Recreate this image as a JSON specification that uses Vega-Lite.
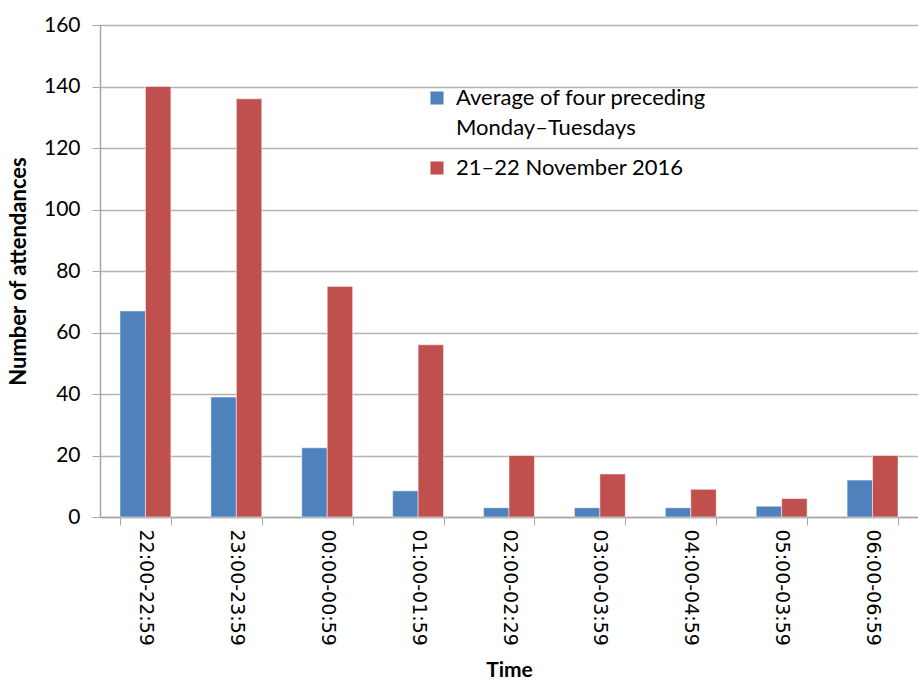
{
  "$schema": "https://vega.github.io/schema/vega-lite/v6.json",
  "width": 818,
  "height": 492,
  "autosize": {"type": "none"},
  "padding": {"left": 100, "top": 25, "right": 0, "bottom": 167},
  "background": "white",
  "config": {"view": {"stroke": null}, "font": "Lato", "style": {"guide-label": {"lineHeight": 30}}},
  "data": {
    "values": [
      {"time": "22:00-22:59", "series": "Average of four preceding Monday–Tuesdays", "value": 67},
      {"time": "22:00-22:59", "series": "21–22 November 2016", "value": 140},
      {"time": "23:00-23:59", "series": "Average of four preceding Monday–Tuesdays", "value": 39},
      {"time": "23:00-23:59", "series": "21–22 November 2016", "value": 136},
      {"time": "00:00-00:59", "series": "Average of four preceding Monday–Tuesdays", "value": 22.5},
      {"time": "00:00-00:59", "series": "21–22 November 2016", "value": 75},
      {"time": "01:00-01:59", "series": "Average of four preceding Monday–Tuesdays", "value": 8.5},
      {"time": "01:00-01:59", "series": "21–22 November 2016", "value": 56},
      {"time": "02:00-02:29", "series": "Average of four preceding Monday–Tuesdays", "value": 3},
      {"time": "02:00-02:29", "series": "21–22 November 2016", "value": 20},
      {"time": "03:00-03:59", "series": "Average of four preceding Monday–Tuesdays", "value": 3},
      {"time": "03:00-03:59", "series": "21–22 November 2016", "value": 14},
      {"time": "04:00-04:59", "series": "Average of four preceding Monday–Tuesdays", "value": 3},
      {"time": "04:00-04:59", "series": "21–22 November 2016", "value": 9},
      {"time": "05:00-03:59", "series": "Average of four preceding Monday–Tuesdays", "value": 3.5},
      {"time": "05:00-03:59", "series": "21–22 November 2016", "value": 6},
      {"time": "06:00-06:59", "series": "Average of four preceding Monday–Tuesdays", "value": 12},
      {"time": "06:00-06:59", "series": "21–22 November 2016", "value": 20}
    ]
  },
  "mark": {"type": "bar", "stroke": "white", "strokeWidth": 0.5},
  "encoding": {
    "x": {
      "field": "time",
      "type": "nominal",
      "sort": null,
      "scale": {"paddingInner": 0.44, "paddingOuter": 0.22},
      "axis": {
        "title": "Time",
        "titleFont": "Lato",
        "titleFontSize": 21,
        "titleFontWeight": "bold",
        "titleColor": "black",
        "titleBaseline": "middle",
        "titleY": 153,
        "labelAngle": 90,
        "labelAlign": "left",
        "labelBaseline": "middle",
        "labelFont": "DejaVu Sans",
        "labelFontSize": 19,
        "labelColor": "black",
        "labelPadding": 4,
        "tickBand": "extent",
        "tickSize": 8,
        "tickColor": "#a6a6a6",
        "domainColor": "#a6a6a6",
        "domainWidth": 1.5,
        "grid": false
      }
    },
    "xOffset": {
      "field": "series",
      "type": "nominal",
      "sort": ["Average of four preceding Monday–Tuesdays", "21–22 November 2016"],
      "scale": {"paddingInner": 0, "paddingOuter": 0}
    },
    "y": {
      "field": "value",
      "type": "quantitative",
      "scale": {"domain": [0, 160], "nice": false},
      "axis": {
        "title": "Number of attendances",
        "titleFont": "Lato",
        "titleFontSize": 22,
        "titleFontWeight": "bold",
        "titleColor": "black",
        "titleBaseline": "middle",
        "titleX": -82,
        "titleY": 246,
        "values": [0, 20, 40, 60, 80, 100, 120, 140, 160],
        "labelFont": "Lato",
        "labelFontSize": 21,
        "labelColor": "black",
        "labelPadding": 12,
        "tickSize": 8,
        "tickColor": "#a6a6a6",
        "domainColor": "#a6a6a6",
        "domainWidth": 1.5,
        "grid": true,
        "gridColor": "#b3b3b3",
        "gridWidth": 1.3
      }
    },
    "color": {
      "field": "series",
      "type": "nominal",
      "sort": ["Average of four preceding Monday–Tuesdays", "21–22 November 2016"],
      "scale": {"range": ["#4F81BD", "#C0504D"]},
      "legend": {
        "title": null,
        "orient": "none",
        "legendX": 326,
        "legendY": 62,
        "symbolType": "square",
        "symbolSize": 170,
        "symbolStrokeWidth": 0,
        "labelFont": "Lato",
        "labelFontSize": 22,
        "labelColor": "black",
        "labelLimit": 400,
        "labelOffset": 8,
        "rowPadding": 18,
        "labelExpr": "datum.label == 'Average of four preceding Monday–Tuesdays' ? ['Average of four preceding', 'Monday–Tuesdays'] : datum.label"
      }
    }
  }
}
